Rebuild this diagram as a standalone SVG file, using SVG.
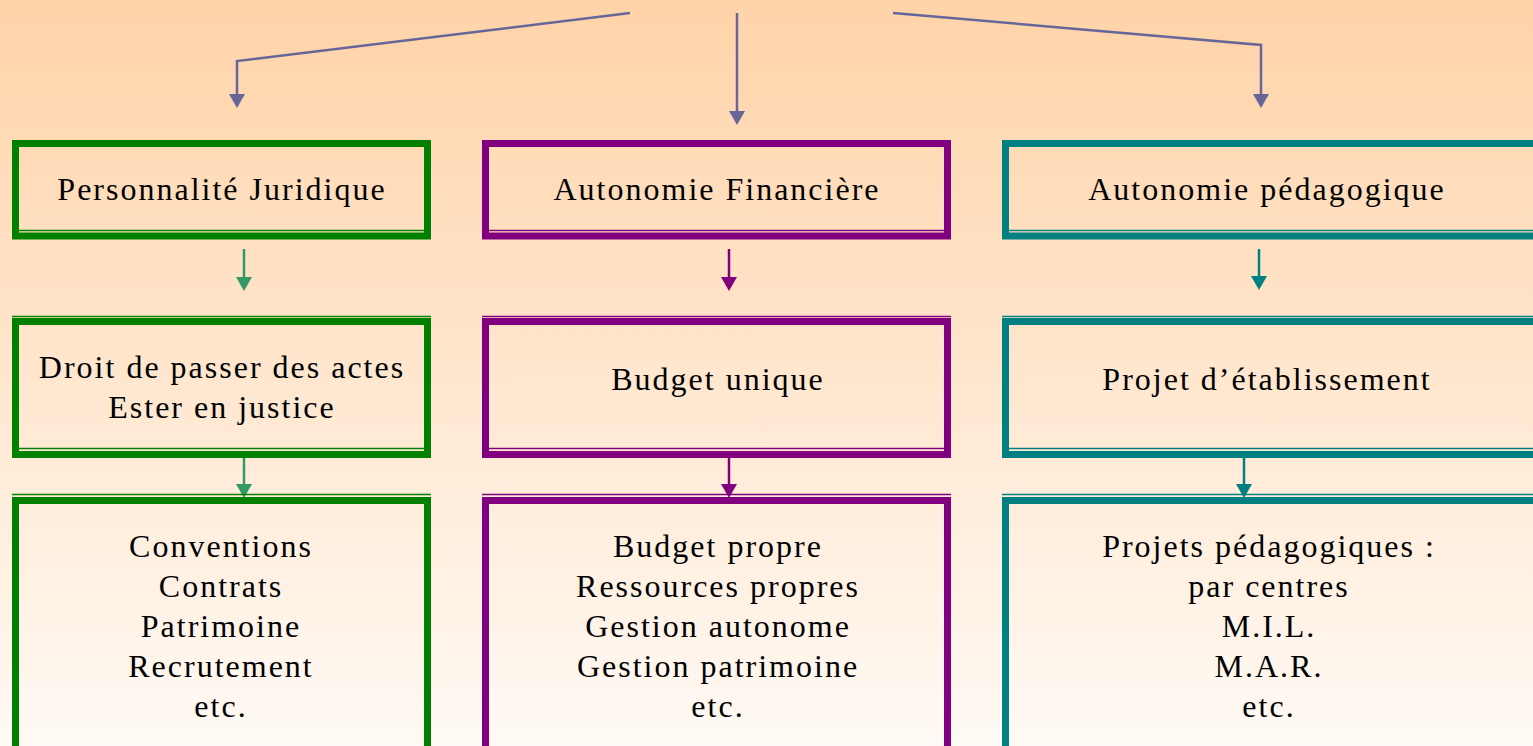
<svg xmlns="http://www.w3.org/2000/svg" width="1533" height="746" viewBox="0 0 1533 746">
<defs>
<linearGradient id="bg" x1="0" y1="0" x2="0" y2="1">
<stop offset="0" stop-color="#FFD3A8"/>
<stop offset="1" stop-color="#FFFAF5"/>
</linearGradient>
<marker id="aBlue" viewBox="0 0 16 14" refX="8" refY="6" markerWidth="16" markerHeight="14" markerUnits="userSpaceOnUse"><path d="M0,0 L16,0 L8,14 Z" fill="#666699"/></marker>
<marker id="aGreen" viewBox="0 0 16 14" refX="8" refY="6" markerWidth="16" markerHeight="14" markerUnits="userSpaceOnUse"><path d="M0,0 L16,0 L8,14 Z" fill="#339966"/></marker>
<marker id="aPurple" viewBox="0 0 16 14" refX="8" refY="6" markerWidth="16" markerHeight="14" markerUnits="userSpaceOnUse"><path d="M0,0 L16,0 L8,14 Z" fill="#800080"/></marker>
<marker id="aTeal" viewBox="0 0 16 14" refX="8" refY="6" markerWidth="16" markerHeight="14" markerUnits="userSpaceOnUse"><path d="M0,0 L16,0 L8,14 Z" fill="#008080"/></marker>
</defs>
<style>
text{font-family:"Liberation Serif","Times New Roman",serif;font-size:32px;letter-spacing:2px;fill:#000;text-anchor:middle}
.box{fill:none;stroke-width:7}
.thin{stroke-width:1.5;fill:none}
.g{stroke:#008000}
.p{stroke:#800080}
.t{stroke:#008080}
.conn{fill:none;stroke-width:2.5}
</style>
<rect x="0" y="0" width="1533" height="746" fill="url(#bg)"/>
<g id="connectors">
<polyline class="conn" stroke="#666699" points="630,13 237,61 237,100" marker-end="url(#aBlue)"/>
<line class="conn" stroke="#666699" x1="737" y1="13" x2="737" y2="117" marker-end="url(#aBlue)"/>
<polyline class="conn" stroke="#666699" points="893,13 1261,45 1261,100" marker-end="url(#aBlue)"/>
<line class="conn" stroke="#339966" x1="244" y1="249" x2="244" y2="283" marker-end="url(#aGreen)"/>
<line class="conn" stroke="#800080" x1="729" y1="249" x2="729" y2="283" marker-end="url(#aPurple)"/>
<line class="conn" stroke="#008080" x1="1259" y1="249" x2="1259" y2="282" marker-end="url(#aTeal)"/>
<line class="conn" stroke="#339966" x1="244" y1="458" x2="244" y2="490" marker-end="url(#aGreen)"/>
<line class="conn" stroke="#800080" x1="729" y1="458" x2="729" y2="490" marker-end="url(#aPurple)"/>
<line class="conn" stroke="#008080" x1="1244" y1="458" x2="1244" y2="490" marker-end="url(#aTeal)"/>
</g>
<g id="personnalite">
<rect class="box g" x="15.5" y="143.5" width="412" height="92.5"/>
<line class="thin g" x1="19" y1="230.5" x2="424" y2="230.5"/>
<text x="222" y="200">Personnalité Juridique</text>
</g>
<g id="autonomie-financiere">
<rect class="box p" x="485.5" y="143.5" width="462" height="92.5"/>
<line class="thin p" x1="489" y1="230.5" x2="944" y2="230.5"/>
<text x="717" y="200">Autonomie Financière</text>
</g>
<g id="autonomie-pedagogique">
<rect class="box t" x="1005.5" y="143.5" width="540" height="92.5"/>
<line class="thin t" x1="1009" y1="230.5" x2="1540" y2="230.5"/>
<text x="1267" y="200">Autonomie pédagogique</text>
</g>
<g id="droit">
<rect class="box g" x="15.5" y="321.5" width="412" height="133"/>
<line class="thin g" x1="12" y1="316.5" x2="431" y2="316.5"/>
<line class="thin g" x1="19" y1="448.5" x2="424" y2="448.5"/>
<text x="222" y="378">Droit de passer des actes</text>
<text x="222" y="418">Ester en justice</text>
</g>
<g id="budget-unique">
<rect class="box p" x="485.5" y="321.5" width="462" height="133"/>
<line class="thin p" x1="482" y1="316.5" x2="951" y2="316.5"/>
<line class="thin p" x1="489" y1="448.5" x2="944" y2="448.5"/>
<text x="718" y="390">Budget unique</text>
</g>
<g id="projet-etablissement">
<rect class="box t" x="1005.5" y="321.5" width="540" height="133"/>
<line class="thin t" x1="1002" y1="316.5" x2="1540" y2="316.5"/>
<line class="thin t" x1="1009" y1="448.5" x2="1540" y2="448.5"/>
<text x="1267" y="390">Projet d’établissement</text>
</g>
<g id="conventions">
<rect class="box g" x="15.5" y="500.5" width="412" height="270"/>
<line class="thin g" x1="12" y1="494.5" x2="431" y2="494.5"/>
<text x="221" y="557">Conventions</text>
<text x="221" y="597">Contrats</text>
<text x="221" y="637">Patrimoine</text>
<text x="221" y="677">Recrutement</text>
<text x="221" y="717">etc.</text>
</g>
<g id="budget-propre">
<rect class="box p" x="485.5" y="500.5" width="462" height="270"/>
<line class="thin p" x1="482" y1="494.5" x2="951" y2="494.5"/>
<text x="718" y="557">Budget propre</text>
<text x="718" y="597">Ressources propres</text>
<text x="718" y="637">Gestion autonome</text>
<text x="718" y="677">Gestion patrimoine</text>
<text x="718" y="717">etc.</text>
</g>
<g id="projets-pedagogiques">
<rect class="box t" x="1005.5" y="500.5" width="540" height="270"/>
<line class="thin t" x1="1002" y1="494.5" x2="1540" y2="494.5"/>
<text x="1269" y="557">Projets pédagogiques :</text>
<text x="1269" y="597">par centres</text>
<text x="1269" y="637">M.I.L.</text>
<text x="1269" y="677">M.A.R.</text>
<text x="1269" y="717">etc.</text>
</g>
</svg>
